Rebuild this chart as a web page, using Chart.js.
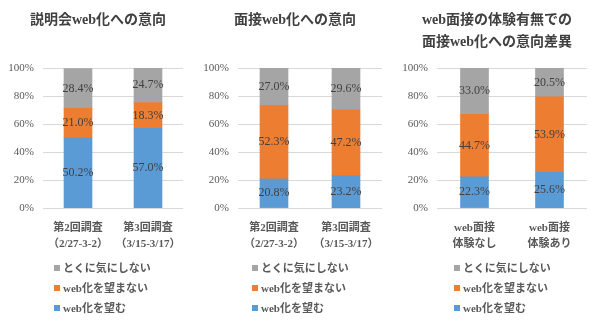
<!DOCTYPE html>
<html>
<head>
<meta charset="utf-8">
<script src="https://cdn.jsdelivr.net/npm/chart.js@4.4.1/dist/chart.umd.min.js"></script>
<style>
    body { margin: 0; background: #fff; }
    .panel { position: absolute; top: 0; width: 200px; height: 322px; }
    .title { position: absolute; top: 9px; width: 200px; text-align: center; font: bold 14px "Liberation Serif", "Noto Sans CJK JP", serif; line-height: 22px; color: #404040; white-space: nowrap; }
    .legend { position: absolute; top: 258px; font: bold 11px "Liberation Serif", "Noto Sans CJK JP", serif; color: #595959; }
    .legend div { height: 20px; line-height: 20px; white-space: nowrap; }
    .legend span { display: inline-block; width: 6px; height: 6px; margin-right: 3px; vertical-align: 1px; }
</style>
</head>
<body>
<div class="panel" style="left:0px"><canvas id="c1" width="200" height="322"></canvas><div class="title" id="t1" style="left:-2px"></div><div class="legend" id="l1" style="left:54px"></div></div>
<div class="panel" style="left:198px"><canvas id="c2" width="200" height="322"></canvas><div class="title" id="t2" style="left:-3px"></div><div class="legend" id="l2" style="left:54px"></div></div>
<div class="panel" style="left:397px"><canvas id="c3" width="200" height="322"></canvas><div class="title" id="t3" style="left:0px"></div><div class="legend" id="l3" style="left:57px"></div></div>
<script>
// series names and colours
var seriesNames = ['web化を望む', 'web化を望まない', 'とくに気にしない'];
var seriesColors = ['#5B9BD5', '#ED7D31', '#A5A5A5'];
var yTicks = [0, 20, 40, 60, 80, 100];

// panel 1
var title1 = ['説明会web化への意向'];
var cats1 = [['第2回調査', '（2/27-3-2）'], ['第3回調査', '（3/15-3/17）']];
var want1 = [50.2, 57.0];
var notWant1 = [21.0, 18.3];
var dontCare1 = [28.4, 24.7];

// panel 2
var title2 = ['面接web化への意向'];
var cats2 = [['第2回調査', '（2/27-3-2）'], ['第3回調査', '（3/15-3/17）']];
var want2 = [20.8, 23.2];
var notWant2 = [52.3, 47.2];
var dontCare2 = [27.0, 29.6];

// panel 3
var title3 = ['web面接の体験有無での', '面接web化への意向差異'];
var cats3 = [['web面接', '体験なし'], ['web面接', '体験あり']];
var want3 = [22.3, 25.6];
var notWant3 = [44.7, 53.9];
var dontCare3 = [33.0, 20.5];

var FONT = '"Liberation Serif", "Noto Sans CJK JP", serif';

// draw value labels in the middle of each segment
var valueLabels = {
    id: 'valueLabels',
    afterDatasetsDraw: function(chart) {
        var ctx = chart.ctx;
        ctx.save();
        ctx.font = '12px ' + FONT;
        ctx.fillStyle = '#404040';
        ctx.textAlign = 'center';
        ctx.textBaseline = 'middle';
        chart.data.datasets.forEach(function(ds, i) {
            chart.getDatasetMeta(i).data.forEach(function(bar, j) {
                var p = bar.getProps(['x', 'y', 'base'], true);
                ctx.fillText(ds.data[j].toFixed(1) + '%', p.x, (p.y + p.base) / 2);
            });
        });
        ctx.restore();
    }
};

function makeChart(n, title, cats, want, notWant, dontCare, axisWidth, rightPad) {
    var series = [want, notWant, dontCare];
    var datasets = series.map(function(d, i) {
        return {
            label: seriesNames[i],
            data: d,
            backgroundColor: seriesColors[i],
            barThickness: 28
        };
    });
    new Chart(document.getElementById('c' + n), {
        type: 'bar',
        data: { labels: cats, datasets: datasets },
        plugins: [valueLabels],
        options: {
            responsive: false,
            animation: false,
            layout: { padding: { left: 0, right: rightPad, top: 68, bottom: 66 } },
            plugins: {
                legend: { display: false },
                tooltip: { enabled: false }
            },
            scales: {
                x: {
                    stacked: true,
                    grid: { display: false },
                    border: { display: false },
                    ticks: {
                        color: '#595959',
                        padding: 4,
                        maxRotation: 0,
                        font: { family: FONT, size: 11, weight: 'bold', lineHeight: 1.45 }
                    }
                },
                y: {
                    stacked: true,
                    min: 0,
                    max: 100,
                    afterFit: function(s) { s.width = axisWidth; },
                    afterBuildTicks: function(s) { s.ticks = yTicks.map(function(v) { return { value: v }; }); },
                    grid: { color: '#D9D9D9', drawTicks: false },
                    border: { display: false },
                    ticks: {
                        color: '#595959',
                        padding: 9,
                        font: { family: FONT, size: 11 },
                        callback: function(v) { return v + '%'; }
                    }
                }
            }
        }
    });

    // title lines
    var t = document.getElementById('t' + n);
    title.forEach(function(line) {
        var d = document.createElement('div');
        d.textContent = line;
        t.appendChild(d);
    });

    // vertical legend, top item is the top segment
    var box = document.getElementById('l' + n);
    for (var i = seriesNames.length - 1; i >= 0; i--) {
        var row = document.createElement('div');
        var sw = document.createElement('span');
        sw.style.background = seriesColors[i];
        row.appendChild(sw);
        row.appendChild(document.createTextNode(seriesNames[i]));
        box.appendChild(row);
    }
}

makeChart(1, title1, cats1, want1, notWant1, dontCare1, 43, 17);
makeChart(2, title2, cats2, want2, notWant2, dontCare2, 40, 16);
makeChart(3, title3, cats3, want3, notWant3, dontCare3, 40, 10);
</script>
</body>
</html>
